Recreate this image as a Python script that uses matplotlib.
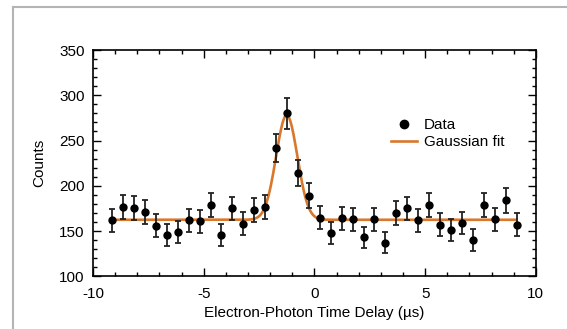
import numpy as np
import matplotlib.pyplot as plt
from matplotlib.lines import Line2D
from matplotlib.ticker import MultipleLocator

plt.rcParams['font.family'] = ['Liberation Sans', 'DejaVu Sans']
plt.rcParams['axes.unicode_minus'] = False

# Measured coincidence counts
delay = [-9.13, -8.64, -8.14, -7.65, -7.16, -6.66, -6.17, -5.68, -5.18, -4.69,
         -4.20, -3.70, -3.21, -2.71, -2.22, -1.73, -1.23, -0.74, -0.25, 0.25,
         0.74, 1.23, 1.73, 2.22, 2.71, 3.21, 3.70, 4.20, 4.69, 5.18,
         5.68, 6.17, 6.66, 7.16, 7.65, 8.14, 8.64, 9.13]
counts = [162, 177, 176, 171, 156, 146, 149, 162, 161, 179,
          146, 175, 158, 173, 177, 242, 280, 214, 189, 165,
          148, 164, 163, 143, 163, 137, 170, 175, 162, 179,
          157, 151, 159, 140, 179, 163, 184, 157]
errors = [12.7, 13.3, 13.3, 13.1, 12.5, 12.1, 12.2, 12.7, 12.7, 13.4,
          12.1, 13.2, 12.6, 13.2, 13.3, 15.6, 16.7, 14.6, 13.7, 12.8,
          12.2, 12.8, 12.8, 12.0, 12.8, 11.7, 13.0, 13.2, 12.7, 13.4,
          12.5, 12.3, 12.6, 11.8, 13.4, 12.8, 13.6, 12.5]

# Gaussian fit parameters
baseline = 162.5
amplitude = 115.5
center = -1.25
sigma = 0.48

fit_color = '#D9782D'

x_fit = np.linspace(delay[0], delay[-1], 800)
y_fit = baseline + amplitude * np.exp(-(x_fit - center) ** 2 / (2 * sigma ** 2))

fig = plt.figure(figsize=(5.67, 3.29), dpi=100)
ax = fig.add_axes([0.164, 0.160, 0.781, 0.688])

ax.errorbar(delay, counts, yerr=errors, fmt='o', color='black', ms=5,
            ecolor='#222222', elinewidth=1.3, capsize=2.5, capthick=1.3,
            zorder=3)
ax.plot(x_fit, y_fit, color=fit_color, lw=1.9, zorder=2)

ax.set_xlim(-10, 10)
ax.set_ylim(100, 350)
ax.xaxis.set_major_locator(MultipleLocator(5))
ax.xaxis.set_minor_locator(MultipleLocator(1))
ax.yaxis.set_major_locator(MultipleLocator(50))
ax.yaxis.set_minor_locator(MultipleLocator(10))
ax.tick_params(which='both', direction='in', top=True, right=True,
               labelsize=11, width=1, colors='black')
ax.tick_params(which='major', length=5.5)
ax.tick_params(which='minor', length=3)
ax.tick_params(axis='x', pad=7.5)
ax.tick_params(axis='y', pad=6)
for s in ax.spines.values():
    s.set_linewidth(1.2)

ax.set_xlabel('Electron-Photon Time Delay (µs)', fontsize=11, labelpad=4)
ax.set_ylabel('Counts', fontsize=11, labelpad=9)

handles = [Line2D([], [], marker='o', ls='none', color='black', ms=6),
           Line2D([], [], color=fit_color, lw=1.9)]
ax.legend(handles, ['Data', 'Gaussian fit'], loc='upper left',
          bbox_to_anchor=(0.673, 0.70), frameon=False, fontsize=11,
          borderpad=0, borderaxespad=0, handlelength=1.7,
          handletextpad=0.45, labelspacing=0.2)

# grey frame round the figure
fig.add_artist(Line2D([12.5 / 567, 12.5 / 567], [0, 1 - 7 / 329],
                      transform=fig.transFigure, color='#b4b4b4', lw=1.5))
fig.add_artist(Line2D([12.5 / 567, 1], [1 - 7 / 329, 1 - 7 / 329],
                      transform=fig.transFigure, color='#b4b4b4', lw=1.5))

fig.savefig('out.png', dpi=100)
